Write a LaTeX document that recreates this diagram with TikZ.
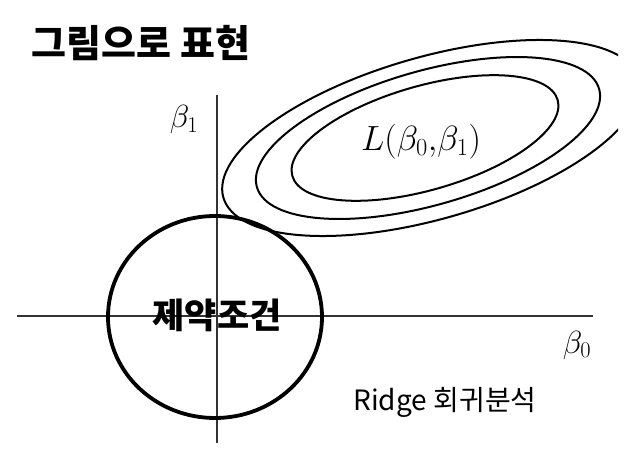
\RequirePackage{fix-cm}
\documentclass[tikz,border=0pt]{standalone}
\usepackage{fontspec}
\newfontfamily\krfont{Noto Sans CJK KR}
\tikzstyle{axis} = [line width=1.2pt, black!80]
\tikzstyle{contour} = [line width=2pt]
\tikzstyle{constraint} = [line width=3.8pt]
\tikzstyle{heading} = [font=\krfont\bfseries\fontsize{38}{38}\selectfont, inner sep=0pt]
\tikzstyle{region} = [font=\krfont\bfseries\fontsize{35}{35}\selectfont, inner sep=0pt]
\tikzstyle{caption} = [font=\krfont\fontsize{28}{28}\selectfont, inner sep=0pt]
\tikzstyle{mathlabel} = [font=\fontsize{32}{32}\selectfont, inner sep=0pt]

\begin{document}
\begin{tikzpicture}[x=1pt,y=-1pt]
            \useasboundingbox (0,0) rectangle (629,462);
            \coordinate (xleft) at (17,316);
            \coordinate (xright) at (593,316);
            \coordinate (ybottom) at (217,443);
            \coordinate (ytop) at (217,95);
            \draw [axis] (xleft) -- (xright);
            \draw [axis] (ybottom) -- (ytop);

            \begin{scope}
                \clip (0,0) rectangle (618,462);
                \foreach \cx/\a/\b in {425/138/52,428/178/67,431/216/81}
                    \draw [contour] (\cx,138) ellipse [x radius=\a, y radius=\b, rotate=16];
            \end{scope}
            \draw [constraint] (215,317) ellipse [x radius=107, y radius=101];

            \node (title) [heading] at (141,43) {그림으로 표현};
            \node (loss) [mathlabel, font=\fontsize{35}{35}\selectfont] at (421,142) {$L(\beta_0{,}\beta_1)$};
            \node (b1) [mathlabel] at (184,120) {$\beta_1$};
            \node (b0) [mathlabel] at (577,345) {$\beta_0$};
            \node (cons) [region] at (217,315) {제약조건};
            \node (ridge) [caption] at (445,402) {Ridge 회귀분석};
        \end{tikzpicture}
\end{document}
